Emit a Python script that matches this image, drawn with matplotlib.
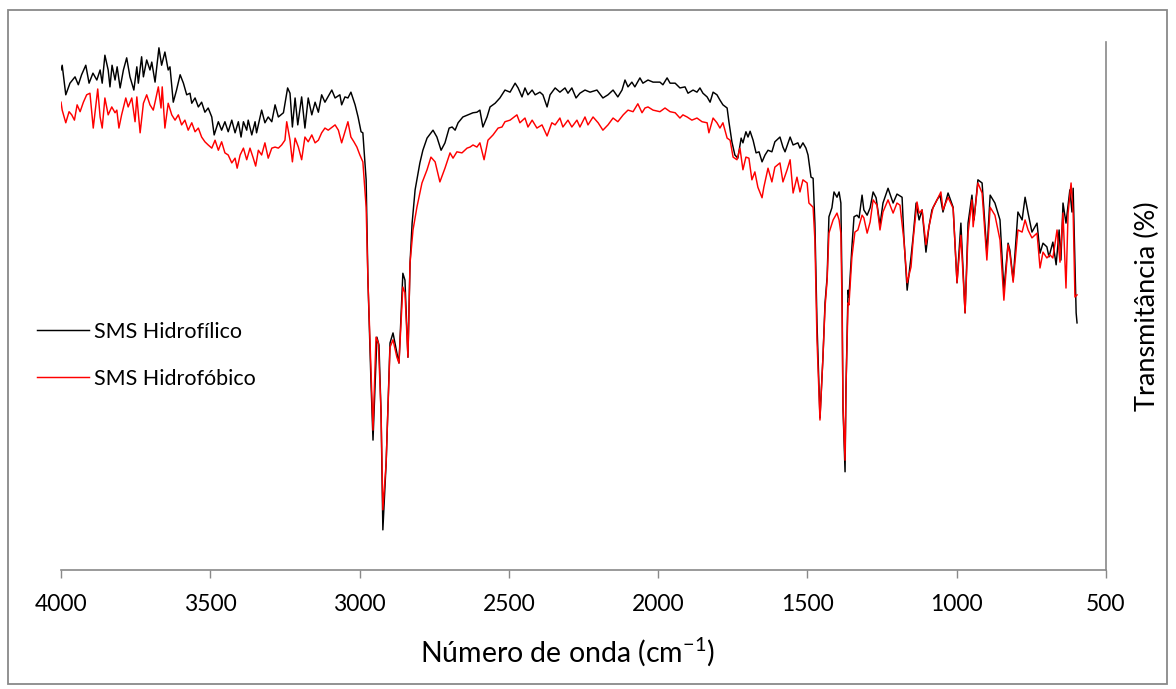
import matplotlib
matplotlib.use("Agg")
import matplotlib.pyplot as plt
from matplotlib.patches import Rectangle

# ---------------- data ----------------
wn_hidrofilico = [
    4000, 3996, 3984, 3970, 3953, 3942, 3931, 3917, 3906, 3893, 3880, 3869, 3862, 3853, 3842, 3836,
    3829, 3819, 3812, 3802, 3791, 3780, 3769, 3756, 3746, 3741, 3730, 3724, 3713, 3702, 3696, 3685,
    3672, 3663, 3652, 3641, 3635, 3624, 3613, 3601, 3590, 3579, 3568, 3562, 3551, 3540, 3529, 3518,
    3507, 3495, 3487, 3473, 3462, 3451, 3440, 3428, 3417, 3406, 3397, 3389, 3378, 3373, 3361, 3350,
    3345, 3328, 3317, 3306, 3294, 3283, 3272, 3255, 3241, 3233, 3225, 3216, 3207, 3194, 3183, 3172,
    3160, 3149, 3138, 3127, 3116, 3093, 3082, 3066, 3060, 3049, 3039, 3029, 3015, 3005, 2995, 2989,
    2978, 2972, 2962, 2955, 2942, 2935, 2928, 2922, 2911, 2898, 2888, 2875, 2868, 2855, 2848, 2838,
    2831, 2824, 2814, 2798, 2788, 2774, 2754, 2741, 2727, 2714, 2700, 2690, 2680, 2670, 2654, 2637,
    2620, 2607, 2597, 2587, 2573, 2563, 2546, 2530, 2513, 2496, 2479, 2469, 2456, 2446, 2436, 2422,
    2412, 2396, 2386, 2372, 2362, 2345, 2329, 2312, 2302, 2289, 2275, 2262, 2245, 2228, 2205, 2185,
    2168, 2151, 2135, 2121, 2111, 2101, 2088, 2078, 2061, 2051, 2034, 2017, 1994, 1984, 1970, 1960,
    1943, 1927, 1910, 1900, 1883, 1870, 1860, 1850, 1836, 1826, 1816, 1803, 1793, 1783, 1769, 1763,
    1753, 1743, 1733, 1722, 1716, 1706, 1699, 1692, 1682, 1672, 1662, 1652, 1642, 1632, 1619, 1609,
    1592, 1582, 1575, 1558, 1548, 1532, 1525, 1515, 1505, 1498, 1488, 1481, 1475, 1468, 1458, 1448,
    1441, 1434, 1428, 1418, 1411, 1401, 1394, 1388, 1384, 1381, 1374, 1371, 1364, 1361, 1351, 1344,
    1334, 1327, 1317, 1311, 1300, 1290, 1280, 1270, 1257, 1247, 1230, 1213, 1200, 1183, 1177, 1166,
    1153, 1146, 1136, 1126, 1116, 1103, 1093, 1083, 1066, 1056, 1046, 1029, 1012, 999, 986, 972,
    962, 949, 942, 929, 915, 899, 888, 872, 855, 842, 828, 822, 811, 795, 781, 771,
    761, 748, 731, 721, 711, 698, 691, 678, 667, 657, 651, 644, 634, 621, 614, 610,
    600, 597,
]
t_hidrofilico = [
    94.7, 95.6, 90.0, 92.2, 93.4, 91.9, 93.8, 95.6, 92.2, 94.1, 92.8, 94.7, 92.2, 97.5, 94.7, 91.5,
    95.6, 92.8, 95.3, 91.3, 94.7, 97.0, 93.4, 90.9, 95.3, 92.2, 97.2, 93.4, 96.6, 94.7, 96.2, 92.4,
    98.9, 95.6, 98.1, 94.7, 95.3, 88.6, 90.9, 93.8, 92.2, 90.0, 90.3, 88.4, 89.4, 87.7, 88.6, 86.7,
    87.5, 85.8, 82.4, 84.9, 83.3, 84.9, 83.0, 85.2, 82.8, 84.9, 82.0, 84.9, 83.3, 85.2, 82.4, 84.9,
    82.8, 87.1, 84.7, 85.8, 84.9, 88.1, 85.8, 86.6, 91.3, 90.3, 83.9, 89.4, 84.3, 89.6, 83.7, 89.4,
    86.2, 88.6, 86.7, 90.0, 88.6, 90.9, 89.4, 90.0, 88.1, 89.6, 89.4, 90.5, 88.1, 85.8, 83.0, 82.8,
    73.9, 54.9, 36.0, 24.6, 44.1, 42.6, 29.7, 7.6, 20.3, 43.0, 44.9, 41.1, 39.2, 56.2, 54.9, 40.3,
    58.1, 65.7, 72.0, 77.1, 79.5, 81.8, 83.3, 82.0, 79.5, 80.9, 83.7, 83.9, 83.3, 84.7, 85.8, 86.2,
    86.6, 86.7, 87.1, 83.9, 85.8, 87.7, 88.4, 89.4, 90.9, 90.5, 92.2, 91.3, 89.6, 91.3, 90.0, 90.9,
    90.0, 90.5, 90.0, 87.7, 90.0, 91.3, 90.5, 91.3, 90.3, 91.3, 89.4, 90.3, 90.9, 90.5, 90.9, 89.4,
    90.0, 90.9, 89.6, 90.9, 92.8, 91.5, 92.4, 91.5, 93.2, 92.2, 92.8, 92.4, 92.4, 91.9, 93.2, 92.2,
    92.2, 91.3, 91.5, 90.3, 90.9, 90.5, 91.3, 90.3, 89.6, 88.6, 90.5, 90.0, 89.0, 88.1, 87.5, 84.9,
    81.1, 78.6, 78.0, 81.8, 80.9, 83.0, 82.0, 83.1, 81.4, 79.0, 79.2, 77.3, 78.6, 79.5, 79.2, 81.1,
    82.0, 80.1, 79.2, 82.0, 80.5, 80.9, 79.9, 80.9, 79.9, 78.6, 74.4, 74.2, 65.7, 46.8, 28.8, 40.3,
    50.6, 55.5, 66.9, 68.6, 71.6, 70.6, 71.6, 69.5, 53.0, 30.9, 18.6, 34.1, 53.0, 51.7, 61.2, 66.9,
    67.2, 66.7, 71.0, 68.2, 67.2, 68.6, 71.6, 70.5, 65.3, 69.5, 72.3, 69.5, 71.2, 70.6, 63.1, 53.0,
    59.3, 63.1, 69.5, 66.3, 68.2, 60.2, 65.0, 68.2, 70.1, 71.0, 67.8, 71.4, 68.7, 54.4, 65.7, 48.7,
    65.7, 71.0, 66.3, 73.9, 73.3, 60.0, 71.0, 69.5, 66.3, 53.0, 61.9, 60.6, 54.9, 67.8, 66.3, 70.6,
    67.6, 64.0, 65.7, 60.0, 61.9, 61.2, 59.3, 62.1, 57.8, 64.4, 58.7, 69.5, 65.7, 72.0, 67.8, 72.3,
    48.7, 46.8,
]

wn_hidrofobico = [
    4000, 3996, 3984, 3973, 3964, 3955, 3946, 3936, 3925, 3914, 3903, 3892, 3884, 3877, 3869, 3862,
    3853, 3842, 3830, 3819, 3813, 3806, 3797, 3783, 3775, 3763, 3752, 3746, 3735, 3724, 3713, 3702,
    3691, 3685, 3674, 3665, 3661, 3652, 3641, 3629, 3618, 3607, 3596, 3585, 3574, 3562, 3551, 3540,
    3529, 3518, 3507, 3495, 3484, 3473, 3462, 3451, 3440, 3428, 3417, 3410, 3400, 3389, 3378, 3367,
    3356, 3348, 3339, 3328, 3317, 3306, 3294, 3283, 3272, 3261, 3250, 3244, 3233, 3225, 3216, 3205,
    3194, 3183, 3172, 3160, 3149, 3138, 3127, 3116, 3105, 3082, 3071, 3060, 3049, 3039, 3029, 3019,
    3009, 2999, 2989, 2978, 2972, 2962, 2955, 2945, 2937, 2928, 2922, 2911, 2898, 2888, 2875, 2868,
    2855, 2848, 2838, 2831, 2821, 2808, 2791, 2774, 2761, 2747, 2731, 2714, 2697, 2687, 2674, 2657,
    2640, 2630, 2620, 2607, 2597, 2583, 2570, 2553, 2536, 2523, 2513, 2496, 2473, 2463, 2446, 2436,
    2422, 2406, 2389, 2372, 2356, 2345, 2329, 2319, 2302, 2289, 2272, 2262, 2245, 2235, 2218, 2201,
    2185, 2168, 2151, 2135, 2117, 2101, 2084, 2068, 2054, 2044, 2034, 2017, 1994, 1977, 1960, 1943,
    1927, 1917, 1903, 1887, 1870, 1853, 1836, 1830, 1816, 1803, 1793, 1783, 1769, 1759, 1749, 1736,
    1726, 1716, 1706, 1696, 1686, 1676, 1666, 1652, 1646, 1632, 1619, 1609, 1592, 1582, 1568, 1558,
    1548, 1535, 1525, 1515, 1501, 1495, 1481, 1475, 1468, 1458, 1448, 1441, 1434, 1428, 1414, 1401,
    1394, 1388, 1384, 1381, 1374, 1371, 1364, 1361, 1351, 1341, 1331, 1317, 1311, 1300, 1290, 1280,
    1267, 1257, 1247, 1230, 1213, 1200, 1190, 1177, 1166, 1153, 1146, 1133, 1126, 1116, 1103, 1093,
    1079, 1066, 1053, 1046, 1029, 1012, 999, 986, 972, 962, 949, 945, 929, 915, 899, 888,
    872, 855, 842, 828, 822, 811, 795, 781, 771, 761, 748, 731, 721, 711, 698, 688,
    678, 664, 654, 644, 634, 627, 617, 610, 604, 597,
]
t_hidrofobico = [
    88.6, 87.1, 84.7, 86.8, 86.2, 85.2, 88.1, 86.8, 88.6, 90.0, 90.3, 83.7, 87.7, 91.1, 85.8, 83.7,
    89.4, 86.2, 87.7, 86.6, 87.1, 83.7, 86.2, 89.4, 87.7, 89.4, 84.9, 89.6, 82.8, 88.4, 90.0, 88.1,
    87.1, 88.6, 91.5, 87.5, 91.5, 83.7, 88.4, 86.2, 85.2, 86.2, 84.3, 85.2, 83.3, 84.7, 83.0, 83.7,
    82.0, 81.1, 80.5, 79.9, 81.4, 79.5, 81.1, 79.0, 78.6, 77.1, 78.0, 76.1, 78.6, 79.9, 77.7, 79.9,
    78.0, 76.5, 79.5, 78.6, 80.9, 78.0, 79.9, 80.1, 79.9, 80.5, 81.4, 84.9, 81.4, 77.3, 81.8, 80.1,
    77.7, 82.0, 81.1, 82.4, 80.9, 81.4, 82.8, 83.7, 83.3, 84.3, 83.3, 80.9, 83.0, 84.9, 82.0, 81.1,
    80.1, 78.6, 77.3, 68.7, 54.9, 37.9, 26.5, 44.1, 43.0, 29.7, 11.4, 20.3, 42.2, 43.6, 40.3, 39.2,
    53.6, 52.5, 40.3, 58.1, 64.4, 68.7, 73.3, 75.8, 78.2, 77.3, 73.5, 76.1, 79.0, 78.0, 79.2, 79.0,
    79.9, 80.1, 80.5, 80.1, 80.9, 77.7, 81.4, 82.4, 83.7, 83.9, 84.9, 85.2, 86.2, 84.7, 85.6, 83.9,
    85.2, 83.7, 84.3, 82.2, 84.7, 84.3, 85.6, 83.9, 85.2, 83.9, 85.2, 83.9, 85.8, 84.3, 85.8, 84.7,
    83.3, 84.3, 85.6, 84.9, 86.2, 87.1, 86.8, 88.3, 86.6, 87.5, 87.7, 87.1, 86.8, 87.5, 86.8, 86.6,
    85.6, 86.2, 85.8, 85.2, 85.6, 84.9, 84.7, 82.8, 85.6, 84.7, 83.7, 84.7, 81.8, 81.4, 78.2, 77.7,
    79.9, 75.8, 78.2, 78.0, 73.9, 75.4, 72.5, 70.5, 72.5, 76.1, 73.5, 76.3, 77.1, 73.5, 75.8, 77.7,
    71.4, 74.4, 71.6, 73.9, 73.3, 69.5, 68.7, 62.5, 43.6, 28.4, 40.3, 49.8, 54.9, 63.8, 66.3, 67.6,
    66.3, 63.8, 49.8, 30.9, 20.8, 34.1, 50.6, 50.2, 59.3, 64.0, 64.4, 67.2, 66.7, 63.8, 65.9, 70.1,
    69.1, 64.4, 67.8, 70.1, 67.6, 69.5, 69.1, 62.5, 54.4, 57.4, 62.5, 69.7, 67.6, 68.2, 61.6, 65.0,
    68.7, 70.1, 71.6, 68.2, 70.6, 68.5, 54.4, 63.4, 48.7, 63.8, 70.1, 65.0, 73.3, 71.4, 58.7, 68.7,
    67.2, 62.5, 51.1, 61.6, 60.0, 54.5, 64.4, 64.0, 66.3, 64.4, 62.9, 63.8, 57.2, 60.2, 59.1, 59.7,
    59.1, 64.4, 58.3, 67.6, 53.4, 67.6, 73.3, 67.6, 51.7, 52.1,
]

series_labels = ["SMS Hidrofílico", "SMS Hidrofóbico"]
x_ticks = [4000, 3500, 3000, 2500, 2000, 1500, 1000, 500]
x_label = "Número de onda (cm$^{-1}$)"
y_label = "Transmitância (%)"

# ---------------- figure ----------------
plt.rcParams["font.family"] = ["Lato", "DejaVu Sans"]
plt.rcParams["mathtext.default"] = "regular"

fig = plt.figure(figsize=(11.76, 6.89), dpi=100)
fig.patch.set_facecolor("white")
fig.patches.append(Rectangle((8 / 1176, 1 - 684 / 689), (1167 - 8) / 1176, (684 - 10) / 689,
                             transform=fig.transFigure, fill=False, edgecolor="#898989",
                             linewidth=1.3, zorder=0))

ax = fig.add_axes([61 / 1176, 1 - 570 / 689, (1106 - 61) / 1176, (570 - 42) / 689])
l1, = ax.plot(wn_hidrofilico, t_hidrofilico, color="black", lw=1.05, label=series_labels[0])
l2, = ax.plot(wn_hidrofobico, t_hidrofobico, color="#ff0000", lw=1.05, label=series_labels[1])

ax.set_xlim(4000, 500)
ax.set_ylim(0, 100)
ax.set_xticks(x_ticks)
ax.set_xticklabels([str(v) for v in x_ticks])
ax.set_yticks([])
for s in ["left", "top"]:
    ax.spines[s].set_visible(False)
for s in ["bottom", "right"]:
    ax.spines[s].set_color("#898989")
    ax.spines[s].set_linewidth(1.2)
ax.tick_params(axis="x", direction="out", length=6, width=1.0, color="#898989",
               labelsize=16.5, pad=11, labelcolor="black")

# axis titles placed like the Excel chart
fig.text(567 / 1176, 1 - 652 / 689, x_label, fontsize=20.5, ha="center", va="center")
ax.yaxis.set_label_position("right")
ax.set_ylabel(y_label, fontsize=19.5, labelpad=21, rotation=90)

fig.legend(handles=[l1, l2], labels=series_labels, loc="upper left",
           bbox_to_anchor=(37 / 1176, 1 - 322 / 689), frameon=False, fontsize=15.5,
           handlelength=2.4, handletextpad=0.25, labelspacing=1.25, borderpad=0,
           borderaxespad=0)

fig.savefig("out.png", dpi=100, facecolor="white")
